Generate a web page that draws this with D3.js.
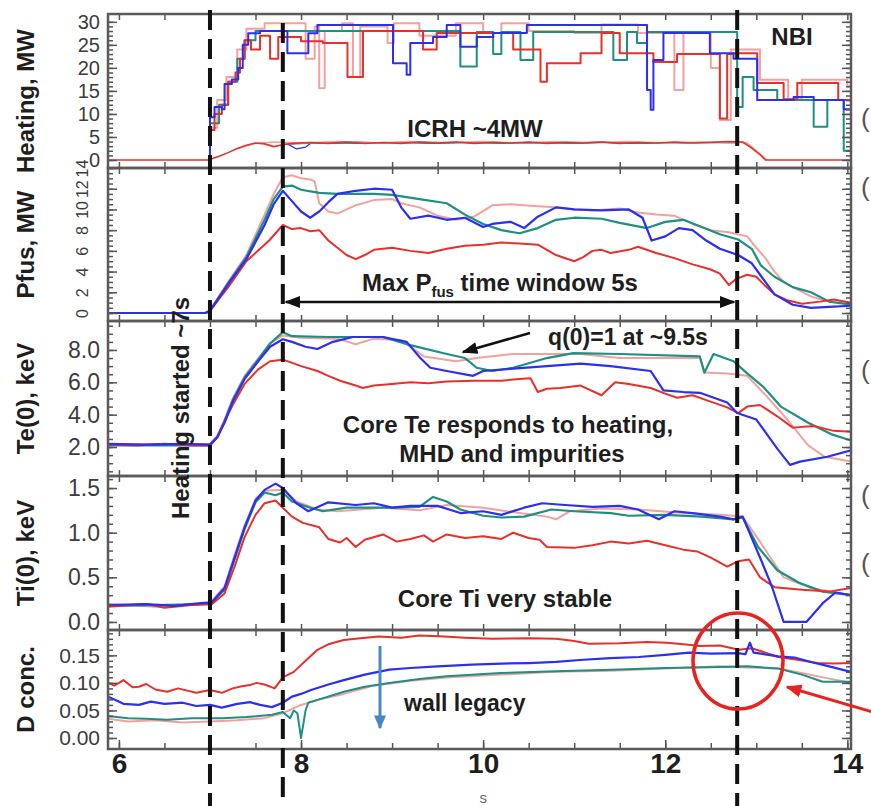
<!DOCTYPE html>
<html>
<head>
<meta charset="utf-8">
<script src="https://cdn.jsdelivr.net/npm/d3@7"></script>
<style>
  body { margin: 0; background: #fff; }
  text { font-family: Arial, "Liberation Sans", Helvetica, sans-serif; }
</style>
</head>
<body>
<svg id="chart" width="871" height="806"></svg>
<script>
// ---- data: [time s, value] ----
// heating (NBI steps), MW
var heatRed = [[7.0,0],[7.0,6.5],[7.05,10],[7.13,12],[7.2,17],[7.28,19],[7.33,22],[7.38,26],[7.45,24],[7.55,27],[7.66,22],[7.75,26.7],[8.0,25.8],[8.24,25.4],[8.51,18],[8.68,28],[9.34,24],[9.49,27.6],[10.33,24],[10.63,17],[10.7,21],[11.07,23.2],[11.3,27.6],[11.5,23.2],[11.87,21.3],[12.13,23],[12.6,9],[12.68,23],[12.75,23.2],[13.01,16.7],[13.3,13.2],[13.45,16.7],[13.9,13],[14.04,13]];
var heatPink = [[7.0,0],[7.0,7],[7.08,13],[7.18,18],[7.3,24],[7.4,28.5],[7.6,29.7],[8.05,22],[8.15,29],[8.2,15.6],[8.26,28],[8.45,29.7],[8.57,18],[8.65,29],[8.95,25.4],[9.02,29.7],[9.3,27],[9.7,29.7],[10.0,27.6],[10.2,29.7],[10.5,28],[11.0,27.6],[11.3,29.4],[11.7,27.6],[12.1,15.2],[12.2,27.6],[12.5,20],[12.6,8.7],[12.72,24],[12.82,24],[13.04,17.4],[13.35,13.2],[13.5,17.4],[14.0,16],[14.04,16]];
var heatBlue = [[7.0,0],[7.0,9.3],[7.05,11.5],[7.13,11],[7.16,16.5],[7.24,17.5],[7.31,20],[7.36,25],[7.42,27.5],[7.55,28],[7.85,23.2],[8.08,27.5],[8.18,29.3],[9.01,21],[9.16,18.5],[9.2,25.4],[9.45,26.7],[9.6,29.3],[9.75,24.6],[9.93,26.7],[10.11,27.6],[10.48,29.3],[11.8,15.2],[11.84,10.9],[11.87,21.7],[11.98,27.6],[12.49,23.2],[12.75,22],[13.01,13],[13.41,13.7],[13.63,13],[13.96,11],[14.04,11]];
var heatTeal = [[7.0,0],[7.0,8],[7.1,12],[7.2,17],[7.3,22],[7.38,26],[7.5,28],[9.75,20.3],[9.93,27.8],[10.11,23],[10.2,27.8],[10.41,21.7],[10.55,27.8],[11.43,21.7],[11.58,27.8],[11.69,25.4],[11.8,27.8],[12.79,11.5],[12.85,18],[12.97,15.2],[13.23,13],[13.63,7.2],[13.78,13],[13.96,2],[14.04,2]];
// ICRH, MW
var icrhRed = [[5.88,0],[6.98,0],[7.1,0.8],[7.2,1.6],[7.3,2.5],[7.4,3.2],[7.5,3.7],[7.6,3.5],[7.7,2.9],[7.8,3.3],[7.9,3.6],[8.1,3.8],[8.3,3.6],[8.5,3.9],[8.7,3.6],[8.9,3.8],[9.1,3.6],[9.3,3.9],[9.5,3.7],[9.7,3.9],[9.9,3.6],[10.1,3.8],[10.3,3.7],[10.5,3.9],[10.7,3.6],[10.9,3.8],[11.1,3.7],[11.3,3.9],[11.5,3.6],[11.7,3.8],[11.9,3.7],[12.1,3.9],[12.3,3.7],[12.5,3.8],[12.7,4.0],[12.85,3.9],[12.95,2.6],[13.05,1.0],[13.1,0],[14.04,0]];
var icrhPink = [[7.3,2.4],[7.5,3.6],[7.7,3.9],[8.0,3.7],[8.4,4.0],[8.8,3.7],[9.2,4.0],[9.6,3.8],[10.0,4.0],[10.4,3.7],[10.8,4.0],[11.2,3.8],[11.6,4.0],[12.0,3.7],[12.4,3.9],[12.79,3.9],[12.9,3.7],[13.05,1.2],[13.12,0]];
var icrhBlue = [[7.85,3.5],[7.95,2.4],[8.05,2.8],[8.12,3.8],[8.3,3.6],[8.6,3.9],[8.9,3.7],[9.2,3.9],[9.5,3.6],[9.8,3.8],[10.1,3.9],[10.4,3.6],[10.7,3.8],[11.0,3.7],[11.3,3.9],[11.6,3.6],[11.9,3.8],[12.2,3.7],[12.5,3.9],[12.79,3.8]];
var icrhTeal = [[7.8,3.4],[8.2,3.7],[8.6,3.6],[9.0,3.8],[9.4,3.6],[9.8,3.8],[10.2,3.6],[10.6,3.8],[11.0,3.6],[11.4,3.8],[11.8,3.6],[12.2,3.8],[12.79,3.7]];

// fusion power, MW
var pfusRed = [[5.88,0],[6.95,0],[7.0,0.2],[7.2,2.5],[7.4,5.0],[7.55,6.2],[7.65,7.0],[7.8,8.5],[7.9,8.1],[8.0,8.2],[8.1,7.9],[8.2,8.0],[8.3,7.0],[8.4,6.3],[8.5,5.6],[8.6,5.2],[8.7,5.6],[8.8,6.1],[9.0,6.3],[9.2,6.0],[9.4,5.8],[9.6,6.2],[9.8,6.5],[10.0,6.6],[10.2,6.8],[10.4,6.7],[10.6,6.6],[10.8,5.6],[11.0,5.0],[11.1,5.4],[11.2,6.0],[11.3,6.1],[11.4,5.8],[11.6,6.1],[11.7,6.4],[11.9,5.8],[12.1,5.3],[12.3,4.7],[12.5,4.2],[12.6,3.8],[12.7,2.7],[12.78,3.3],[12.9,3.7],[13.0,3.5],[13.1,2.6],[13.2,1.8],[13.35,1.2],[13.5,0.9],[13.7,1.1],[13.85,1.3],[14.04,1.0]];
var pfusPink = [[5.88,0],[6.95,0],[7.0,0.3],[7.2,3.0],[7.4,5.6],[7.6,9.5],[7.7,11.5],[7.8,13.1],[7.9,13.3],[8.0,13.0],[8.1,12.9],[8.15,12.7],[8.2,10.6],[8.3,9.8],[8.4,9.6],[8.5,10.0],[8.6,10.4],[8.8,10.9],[9.0,11.0],[9.1,10.6],[9.3,10.2],[9.5,9.4],[9.7,9.0],[9.9,9.3],[10.1,10.4],[10.3,10.5],[10.6,10.3],[10.8,10.2],[11.0,10.0],[11.2,9.9],[11.5,10.1],[11.7,9.7],[11.9,9.5],[12.1,9.4],[12.3,8.6],[12.5,8.0],[12.7,7.8],[12.9,7.4],[13.0,6.3],[13.1,5.3],[13.2,4.0],[13.3,3.0],[13.4,2.5],[13.6,1.6],[13.8,1.1],[14.04,0.9]];
var pfusBlue = [[5.88,0],[6.95,0],[7.0,0.2],[7.2,2.8],[7.4,5.2],[7.6,8.5],[7.7,10.5],[7.8,11.8],[7.9,10.8],[8.0,9.8],[8.1,9.2],[8.2,9.8],[8.3,10.7],[8.4,11.5],[8.6,11.8],[8.8,12.0],[9.0,11.9],[9.1,10.2],[9.2,9.1],[9.4,9.4],[9.6,9.0],[9.8,9.2],[10.0,8.3],[10.1,8.6],[10.3,8.8],[10.45,8.2],[10.6,9.3],[10.8,10.2],[11.0,10.0],[11.3,9.9],[11.6,10.0],[11.75,9.2],[11.85,7.0],[12.0,7.4],[12.15,8.2],[12.3,8.0],[12.45,7.0],[12.6,6.2],[12.8,5.6],[12.95,4.8],[13.05,3.6],[13.2,1.8],[13.4,0.8],[13.6,0.5],[13.8,0.6],[14.04,0.7]];
var pfusTeal = [[5.88,0],[6.95,0],[7.0,0.2],[7.2,2.9],[7.4,5.4],[7.6,9.0],[7.7,11.0],[7.8,12.2],[7.9,12.3],[8.0,11.9],[8.2,11.6],[8.4,11.5],[8.8,11.5],[9.0,11.4],[9.3,11.0],[9.6,10.6],[9.8,9.5],[10.0,8.6],[10.2,8.0],[10.4,7.7],[10.6,8.2],[10.8,9.0],[11.0,9.2],[11.3,9.1],[11.5,8.7],[11.8,8.2],[12.0,8.8],[12.2,9.0],[12.4,8.3],[12.6,7.6],[12.8,7.1],[12.95,6.2],[13.05,4.6],[13.2,3.5],[13.4,2.5],[13.6,2.0],[13.8,1.1],[14.04,0.8]];

// central electron temperature, keV
var teRed = [[5.88,2.15],[6.2,2.1],[6.5,2.2],[6.8,2.1],[7.0,2.1],[7.08,2.6],[7.16,3.6],[7.25,4.6],[7.38,5.9],[7.53,6.8],[7.66,7.3],[7.8,7.4],[7.88,7.25],[8.0,7.0],[8.18,6.7],[8.3,6.4],[8.43,6.1],[8.6,5.8],[8.68,5.65],[8.8,5.8],[9.0,5.9],[9.2,6.0],[9.4,5.95],[9.6,6.05],[9.9,6.1],[10.2,6.1],[10.4,6.2],[10.52,6.25],[10.6,5.4],[10.7,5.6],[10.85,5.65],[11.07,5.8],[11.3,5.2],[11.45,6.0],[11.6,5.9],[11.84,5.65],[12.0,5.3],[12.13,5.05],[12.3,5.2],[12.45,4.9],[12.68,4.45],[12.8,4.1],[12.9,4.5],[13.04,4.6],[13.23,3.9],[13.4,3.2],[13.63,3.3],[13.85,3.0],[14.04,2.95]];
var tePink = [[5.88,2.15],[7.0,2.2],[7.08,2.7],[7.16,3.7],[7.25,5.0],[7.38,6.4],[7.53,7.5],[7.66,8.4],[7.8,8.9],[8.0,8.75],[8.4,8.7],[8.6,8.35],[8.8,8.7],[9.1,8.6],[9.35,7.6],[9.7,7.3],[9.93,7.5],[10.33,7.75],[11.07,7.75],[11.5,7.5],[12.38,7.5],[12.43,6.6],[12.68,6.55],[12.9,6.4],[13.12,5.1],[13.34,3.7],[13.57,2.1],[13.75,1.4],[14.04,1.1]];
var teBlue = [[5.88,2.2],[6.3,2.15],[6.7,2.2],[7.0,2.15],[7.08,2.6],[7.16,3.5],[7.25,4.8],[7.38,6.2],[7.53,7.3],[7.66,8.2],[7.8,8.66],[7.9,8.5],[8.05,8.2],[8.18,8.06],[8.35,8.5],[8.57,8.8],[8.9,8.8],[9.16,8.5],[9.31,7.5],[9.42,6.9],[9.6,6.7],[9.89,6.4],[10.0,6.7],[10.33,6.85],[10.7,7.0],[11.07,7.15],[11.4,7.0],[11.84,6.7],[11.98,5.5],[12.2,5.4],[12.38,5.35],[12.68,4.75],[12.79,4.1],[13.0,3.7],[13.23,1.9],[13.37,0.9],[13.48,1.1],[13.78,1.4],[14.04,1.8]];
var teTeal = [[5.88,2.1],[7.0,2.1],[7.08,2.6],[7.16,3.6],[7.25,4.9],[7.38,6.3],[7.53,7.4],[7.66,8.4],[7.8,9.1],[7.9,8.85],[8.3,8.8],[8.9,8.8],[9.2,8.3],[9.6,7.75],[9.8,7.5],[9.93,6.9],[10.1,6.7],[10.33,6.9],[10.7,7.5],[10.99,7.8],[11.5,7.75],[12.38,7.6],[12.43,6.6],[12.53,7.75],[12.75,7.3],[12.9,6.55],[13.08,5.7],[13.27,4.5],[13.57,3.5],[13.82,2.8],[14.04,2.4]];

// central ion temperature, keV
var tiRed = [[5.88,0.17],[6.3,0.2],[6.5,0.16],[6.8,0.19],[7.02,0.2],[7.16,0.32],[7.27,0.62],[7.38,0.95],[7.5,1.2],[7.6,1.33],[7.72,1.36],[7.8,1.28],[7.9,1.18],[8.02,1.11],[8.2,1.06],[8.3,0.93],[8.43,0.89],[8.5,0.94],[8.6,0.84],[8.7,0.92],[8.9,0.98],[9.05,0.9],[9.2,0.93],[9.35,0.97],[9.45,0.9],[9.6,0.98],[9.8,0.94],[10.0,0.96],[10.2,0.93],[10.33,1.0],[10.5,0.94],[10.62,0.92],[10.7,0.84],[11.0,0.83],[11.2,0.86],[11.4,0.9],[11.6,0.88],[11.8,0.91],[12.0,0.86],[12.2,0.81],[12.35,0.79],[12.5,0.72],[12.68,0.62],[12.8,0.68],[12.92,0.7],[13.04,0.5],[13.2,0.39],[13.5,0.36],[13.8,0.34],[14.04,0.38]];
var tiPink = [[5.88,0.2],[6.4,0.17],[7.0,0.21],[7.16,0.4],[7.27,0.75],[7.38,1.08],[7.5,1.38],[7.6,1.47],[7.8,1.48],[7.95,1.35],[8.18,1.26],[8.4,1.24],[8.9,1.28],[9.3,1.25],[9.6,1.31],[10.0,1.28],[10.4,1.22],[10.7,1.18],[10.8,1.15],[10.95,1.24],[11.3,1.27],[11.7,1.26],[12.2,1.22],[12.6,1.2],[12.85,1.18],[13.04,0.9],[13.3,0.5],[13.6,0.38],[14.04,0.3]];
var tiBlue = [[5.88,0.19],[6.3,0.2],[6.6,0.18],[6.9,0.21],[7.02,0.22],[7.16,0.38],[7.27,0.72],[7.38,1.06],[7.5,1.36],[7.6,1.48],[7.72,1.55],[7.8,1.5],[7.95,1.33],[8.08,1.24],[8.3,1.34],[8.6,1.31],[8.8,1.33],[9.0,1.28],[9.2,1.3],[9.5,1.3],[9.75,1.22],[10.0,1.24],[10.2,1.2],[10.45,1.28],[10.65,1.33],[10.9,1.31],[11.2,1.29],[11.5,1.3],[11.7,1.26],[11.93,1.15],[12.1,1.24],[12.3,1.22],[12.6,1.18],[12.75,1.15],[12.85,1.18],[13.05,0.7],[13.17,0.4],[13.3,0.0],[13.55,0.0],[13.73,0.21],[13.87,0.33],[14.04,0.3]];
var tiTeal = [[5.88,0.18],[7.0,0.2],[7.16,0.36],[7.27,0.7],[7.38,1.04],[7.5,1.34],[7.6,1.45],[7.72,1.42],[7.8,1.45],[7.9,1.35],[8.1,1.28],[8.24,1.24],[8.5,1.28],[9.0,1.28],[9.3,1.29],[9.45,1.4],[9.6,1.35],[9.75,1.26],[10.0,1.19],[10.2,1.17],[10.45,1.18],[10.75,1.26],[11.0,1.24],[11.4,1.22],[11.6,1.19],[12.0,1.2],[12.4,1.18],[12.75,1.15],[12.85,1.17],[13.02,0.84],[13.23,0.58],[13.47,0.44],[13.73,0.34],[14.04,0.3]];

// deuterium concentration
var dRed = [[5.88,0.1],[5.95,0.095],[6.05,0.105],[6.15,0.092],[6.22,0.093],[6.3,0.098],[6.4,0.088],[6.53,0.084],[6.65,0.09],[6.75,0.086],[6.85,0.082],[7.0,0.087],[7.13,0.082],[7.25,0.09],[7.35,0.094],[7.44,0.096],[7.51,0.1],[7.6,0.097],[7.71,0.09],[7.8,0.11],[7.92,0.12],[8.05,0.14],[8.18,0.16],[8.3,0.17],[8.47,0.178],[8.6,0.18],[8.85,0.184],[9.1,0.182],[9.3,0.186],[9.57,0.184],[9.8,0.182],[10.1,0.18],[10.5,0.181],[10.8,0.18],[11.0,0.176],[11.16,0.171],[11.5,0.172],[11.8,0.174],[12.02,0.173],[12.2,0.17],[12.38,0.167],[12.6,0.168],[12.81,0.16],[12.95,0.163],[13.1,0.155],[13.24,0.147],[13.45,0.142],[13.67,0.136],[13.85,0.135],[14.04,0.136]];
var dPink = [[5.88,0.035],[6.1,0.03],[6.4,0.032],[6.7,0.028],[7.0,0.03],[7.3,0.032],[7.6,0.036],[7.8,0.045],[8.0,0.06],[8.2,0.07],[8.47,0.08],[8.8,0.095],[9.2,0.104],[9.6,0.11],[10.2,0.115],[10.8,0.12],[11.4,0.122],[12.0,0.126],[12.6,0.13],[12.9,0.128],[13.24,0.126],[13.5,0.118],[13.73,0.11],[14.04,0.1]];
var dBlue = [[5.88,0.075],[5.95,0.07],[6.05,0.062],[6.22,0.06],[6.35,0.066],[6.5,0.062],[6.7,0.064],[6.85,0.058],[7.0,0.06],[7.13,0.055],[7.3,0.062],[7.44,0.065],[7.55,0.06],[7.68,0.056],[7.8,0.064],[7.9,0.075],[8.0,0.08],[8.11,0.087],[8.3,0.097],[8.47,0.105],[8.7,0.115],[8.97,0.124],[9.2,0.127],[9.5,0.13],[9.88,0.133],[10.2,0.135],[10.5,0.136],[10.8,0.138],[11.1,0.142],[11.4,0.145],[11.71,0.147],[12.0,0.151],[12.26,0.155],[12.5,0.153],[12.8,0.154],[12.88,0.152],[12.93,0.173],[12.97,0.155],[13.05,0.153],[13.24,0.148],[13.42,0.146],[13.6,0.138],[13.8,0.13],[14.04,0.12]];
var dTeal = [[5.88,0.04],[6.1,0.036],[6.3,0.035],[6.53,0.033],[6.8,0.036],[7.13,0.036],[7.4,0.038],[7.68,0.042],[7.8,0.047],[7.88,0.036],[7.92,0.05],[7.96,0.045],[8.0,0.0],[8.05,0.05],[8.08,0.064],[8.2,0.07],[8.47,0.084],[8.7,0.093],[8.97,0.1],[9.3,0.107],[9.6,0.112],[10.19,0.118],[10.8,0.121],[11.41,0.124],[12.0,0.127],[12.63,0.129],[12.9,0.13],[13.24,0.126],[13.5,0.115],[13.73,0.102],[14.04,0.102]];

// tick labels and marker times
var heatTicks = [0, 5, 10, 15, 20, 25, 30];
var pfusTicks = [0, 2, 4, 6, 8, 10, 12, 14];
var teTicks = [2, 4, 6, 8];
var tiTicks = [0, 0.5, 1.0, 1.5];
var dTicks = [0, 0.05, 0.10, 0.15];
var timeTicks = [6, 8, 10, 12, 14];
var timeMarkers = [7.0, 7.8, 12.79];

var colors = { pink: '#f3a19d', teal: '#1d8f83', red: '#e8302a', blue: '#2b2ff0' };

var svg = d3.select('#chart');
var left = 108, right = 851;

var x = d3.scaleLinear().domain([5.88, 14.04]).range([left, right]);

var panels = [
  { top: 14, bottom: 168, dom: [-1.74, 31.7], ticks: heatTicks, minor: d3.range(0, 31, 1), fmt: d3.format('d'), label: 'Heating, MW', fs: 20,
    lines: [[icrhBlue, 'blue', 1.2], [icrhTeal, 'teal', 1.2], [icrhPink, 'pink', 1.4], [icrhRed, 'red', 1.6],
            [heatPink, 'pink', 2, true], [heatTeal, 'teal', 2, true], [heatRed, 'red', 2, true], [heatBlue, 'blue', 2, true]] },
  { top: 168, bottom: 321, dom: [-0.77, 14], ticks: pfusTicks, minor: d3.range(0, 14.01, 0.5), fmt: d3.format('d'), label: 'Pfus, MW', rotated: true,
    lines: [[pfusPink, 'pink', 2], [pfusTeal, 'teal', 2.2], [pfusRed, 'red', 2], [pfusBlue, 'blue', 2.2]] },
  { top: 321, bottom: 476, dom: [0.21, 9.79], ticks: teTicks, minor: d3.range(0.5, 9.6, 0.5), fmt: d3.format('.1f'), label: 'Te(0), keV',
    lines: [[tePink, 'pink', 2], [teTeal, 'teal', 2.2], [teRed, 'red', 2], [teBlue, 'blue', 2.2]] },
  { top: 476, bottom: 630, dom: [-0.09, 1.635], ticks: tiTicks, minor: d3.range(0, 1.61, 0.1), fmt: d3.format('.1f'), label: 'Ti(0), keV',
    lines: [[tiPink, 'pink', 2], [tiTeal, 'teal', 2.2], [tiRed, 'red', 2], [tiBlue, 'blue', 2.2]] },
  { top: 630, bottom: 749, dom: [-0.02, 0.196], ticks: dTicks, minor: d3.range(0, 0.191, 0.01), fmt: d3.format('.2f'), label: 'D conc.', fs: 21,
    lines: [[dPink, 'pink', 2], [dTeal, 'teal', 2], [dRed, 'red', 2], [dBlue, 'blue', 2.2]] }
];

var defs = svg.append('defs');
function marker(id, color, len, wid) {
  defs.append('marker').attr('id', id)
    .attr('viewBox', '0 0 10 10').attr('refX', 9).attr('refY', 5)
    .attr('markerWidth', len).attr('markerHeight', wid)
    .attr('markerUnits', 'userSpaceOnUse')
    .attr('preserveAspectRatio', 'none')
    .attr('orient', 'auto-start-reverse')
    .append('path').attr('d', 'M0,0L10,5L0,10Z').attr('fill', color);
}
marker('arrK', '#111', 16, 12);
marker('arrB', '#4a87c6', 14, 12);
marker('arrR', '#e8231f', 16, 13);

panels.forEach(function(p, i) {
  var y = d3.scaleLinear().domain(p.dom).range([p.bottom, p.top]);

  defs.append('clipPath').attr('id', 'clip' + i)
    .append('rect').attr('x', left).attr('y', p.top).attr('width', right - left).attr('height', p.bottom - p.top);

  var g = svg.append('g').attr('clip-path', 'url(#clip' + i + ')');
  p.lines.forEach(function(s) {
    var line = d3.line().x(function(d) { return x(d[0]); }).y(function(d) { return y(d[1]); });
    if (s[3]) line.curve(d3.curveStepAfter);
    g.append('path').datum(s[0])
      .attr('d', line)
      .attr('fill', 'none')
      .attr('stroke', colors[s[1]])
      .attr('stroke-width', s[2])
      .attr('stroke-linejoin', 'round');
  });

  // minor ticks, left + right
  svg.append('g').attr('transform', 'translate(' + left + ',0)')
    .call(d3.axisLeft(y).tickValues(p.minor).tickSize(-5).tickFormat(''));
  svg.append('g').attr('transform', 'translate(' + right + ',0)')
    .call(d3.axisRight(y).tickValues(p.minor).tickSize(-5).tickFormat(''));
  svg.append('g').attr('transform', 'translate(' + right + ',0)')
    .call(d3.axisRight(y).tickValues(p.ticks).tickSize(-9).tickFormat(''));

  // major ticks + labels
  var ax = svg.append('g').attr('transform', 'translate(' + left + ',0)')
    .call(d3.axisLeft(y).tickValues(p.ticks).tickSize(-9).tickPadding(8).tickFormat(p.fmt));
  ax.selectAll('text').attr('font-size', p.fs || 23).attr('fill', '#3c3c3c')
    .attr('font-family', 'Arial, "Liberation Sans", sans-serif');
  if (p.rotated) {
    ax.selectAll('text')
      .attr('transform', 'rotate(-90)')
      .attr('x', 0).attr('y', -20).attr('dy', 0)
      .attr('text-anchor', 'middle')
      .attr('font-size', 16);
  }

  // time ticks on top and bottom edge
  svg.append('g').attr('transform', 'translate(0,' + p.top + ')')
    .call(d3.axisTop(x).tickValues(d3.range(6, 14.01, 0.5)).tickSize(-6).tickFormat(''));
  svg.append('g').attr('transform', 'translate(0,' + p.bottom + ')')
    .call(d3.axisBottom(x).tickValues(d3.range(6, 14.01, 0.5)).tickSize(-6).tickFormat(''));

  // frame
  svg.append('rect').attr('x', left).attr('y', p.top)
    .attr('width', right - left).attr('height', p.bottom - p.top)
    .attr('fill', 'none').attr('stroke', '#5a5a5a').attr('stroke-width', 2.5);

  // panel label
  var cy = (p.top + p.bottom) / 2 + (i === 0 ? 10 : 0);
  svg.append('text')
    .attr('transform', 'translate(34,' + cy + ') rotate(-90)')
    .attr('text-anchor', 'middle')
    .attr('font-size', 24).attr('font-weight', 'bold').attr('fill', '#1e1e1e')
    .text(p.label);
});

svg.selectAll('.domain').remove();
svg.selectAll('.tick line').attr('stroke', '#555').attr('stroke-width', 1.5);

// time axis labels
var last = panels[panels.length - 1];
var xa = svg.append('g').attr('transform', 'translate(0,' + last.bottom + ')')
  .call(d3.axisBottom(x).tickValues(timeTicks).tickSize(-9).tickPadding(4).tickFormat(d3.format('d')));
xa.select('.domain').remove();
xa.selectAll('.tick line').attr('stroke', '#555').attr('stroke-width', 1.5);
xa.selectAll('text').attr('font-size', 28).attr('font-weight', 'bold').attr('fill', '#1e1e1e')
  .attr('font-family', 'Arial, "Liberation Sans", sans-serif');

svg.append('text').attr('x', x(10)).attr('y', 803).attr('text-anchor', 'middle')
  .attr('font-size', 15).attr('fill', '#666').text('s');

// dashed markers
var markerTop = [10, 23, 10];
timeMarkers.forEach(function(t, i) {
  svg.append('line')
    .attr('x1', x(t)).attr('x2', x(t))
    .attr('y1', markerTop[i]).attr('y2', 806)
    .attr('stroke', '#111').attr('stroke-width', 4)
    .attr('stroke-dasharray', '20,9');
});

// annotations
function label(tx, ty, str, size, anchor) {
  return svg.append('text').attr('x', tx).attr('y', ty)
    .attr('text-anchor', anchor || 'middle')
    .attr('font-size', size || 24).attr('font-weight', 'bold').attr('fill', '#1e1e1e')
    .text(str);
}
label(792, 45, 'NBI', 24);
label(475, 137, 'ICRH ~4MW', 24);

var pfusLabel = svg.append('text').attr('x', 500).attr('y', 291).attr('text-anchor', 'middle')
  .attr('font-size', 24).attr('font-weight', 'bold').attr('fill', '#1e1e1e');
pfusLabel.append('tspan').text('Max P');
pfusLabel.append('tspan').attr('font-size', 15).attr('dy', 6).text('fus');
pfusLabel.append('tspan').attr('dy', -6).text(' time window 5s');

svg.append('line')
  .attr('x1', x(timeMarkers[1]) + 3).attr('x2', x(timeMarkers[2]) - 3)
  .attr('y1', 302).attr('y2', 302)
  .attr('stroke', '#111').attr('stroke-width', 2.5)
  .attr('marker-start', 'url(#arrK)').attr('marker-end', 'url(#arrK)');

label(628, 345, 'q(0)=1 at ~9.5s', 23);
svg.append('line').attr('x1', 530).attr('y1', 333).attr('x2', 463).attr('y2', 352)
  .attr('stroke', '#111').attr('stroke-width', 2.5).attr('marker-end', 'url(#arrK)');

label(508, 433, 'Core Te responds to heating,', 24);
label(512, 462, 'MHD and impurities', 24);
label(505, 607, 'Core Ti very stable', 24);
label(404, 711, 'wall legacy', 23, 'start');

svg.append('text')
  .attr('transform', 'translate(189,519) rotate(-90)')
  .attr('font-size', 24).attr('font-weight', 'bold').attr('fill', '#1e1e1e')
  .text('Heating started ~7s');

svg.append('line').attr('x1', 380).attr('y1', 646).attr('x2', 380).attr('y2', 728)
  .attr('stroke', '#4a87c6').attr('stroke-width', 3).attr('marker-end', 'url(#arrB)');

svg.append('ellipse').attr('cx', 738).attr('cy', 661).attr('rx', 45).attr('ry', 48)
  .attr('fill', 'none').attr('stroke', '#e8231f').attr('stroke-width', 3.5);

svg.append('line').attr('x1', 876).attr('y1', 713).attr('x2', 787).attr('y2', 687)
  .attr('stroke', '#e8231f').attr('stroke-width', 3).attr('marker-end', 'url(#arrR)');

// cut-off glyphs at the right edge of the slide
[127, 196, 379, 504, 572].forEach(function(by) {
  svg.append('text').attr('x', 861).attr('y', by)
    .attr('font-size', 26).attr('fill', '#555').text('(');
});
</script>
</body>
</html>
